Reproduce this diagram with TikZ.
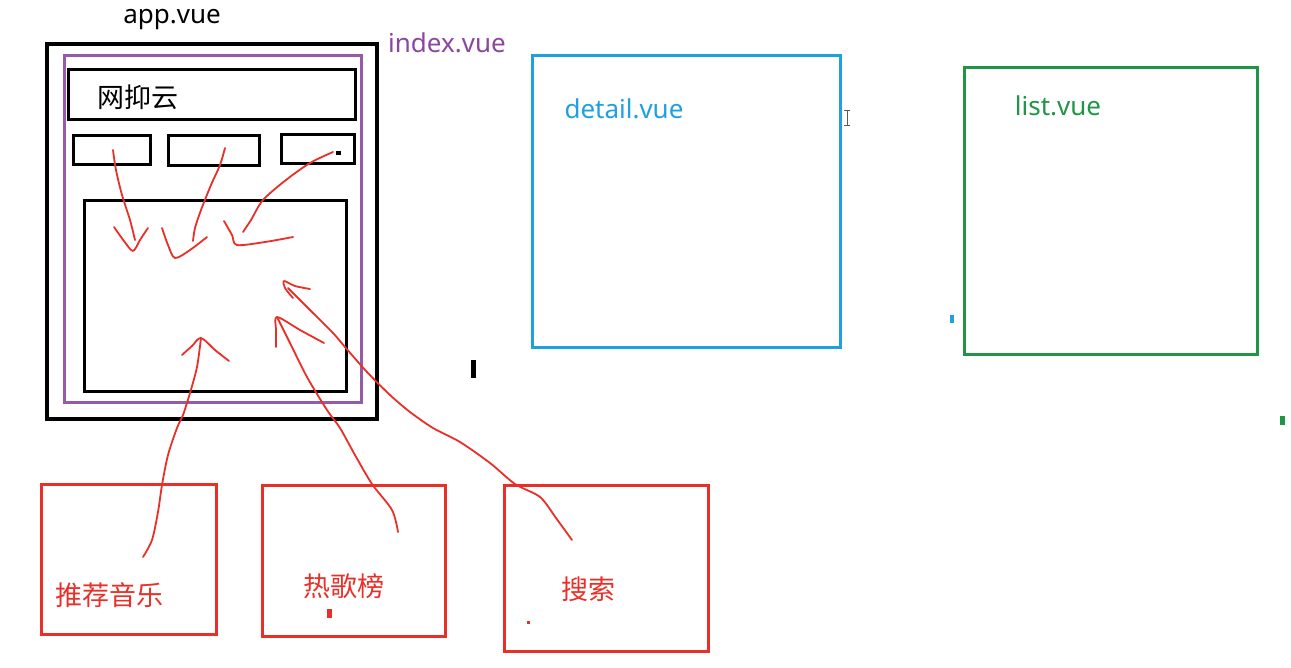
\documentclass[tikz,border=0pt]{standalone}
\usepackage{fontspec}
\setmainfont{Noto Sans}
\newfontfamily\cjk{Noto Sans CJK SC}
\definecolor{cred}{RGB}{232,48,40}
\definecolor{cblue}{RGB}{30,160,225}
\definecolor{cgreen}{RGB}{30,150,70}
\definecolor{cpurple}{RGB}{150,90,170}
\definecolor{cptext}{RGB}{140,70,160}
\begin{document}
\begin{tikzpicture}[x=1pt,y=-1pt,
  box/.style={draw,line width=#1,inner sep=0pt,anchor=north west},
  box/.default=3pt,
  lbl/.style={font=\fontsize{26}{30}\selectfont,inner sep=0pt},
  clbl/.style={font=\cjk\fontsize{27}{31}\selectfont,inner sep=0pt},
  stroke/.style={cred,line width=1.8pt,line cap=round,line join=round}]
\useasboundingbox[fill=white] (0,0) rectangle (1291,667);
% app.vue
\node[box=4pt,minimum width=330pt,minimum height=375pt] (app) at (45,42) {};
\node[lbl] (applbl) at (172,20) {app.vue};
\node[box,draw=cpurple,minimum width=297pt,minimum height=347pt] (index) at (63,54) {};
\node[lbl,text=cptext,anchor=west] (indexlbl) at (388,43) {index.vue};
\node[box,minimum width=287pt,minimum height=50pt] (header) at (67,68) {};
\node[clbl] (headerlbl) at (138,97) {网抑云};
\node[box,minimum width=77pt,minimum height=29pt] (tab1) at (72,134) {};
\node[box,minimum width=91pt,minimum height=30pt] (tab2) at (167,134) {};
\node[box,minimum width=73pt,minimum height=29pt] (tab3) at (280,133) {};
\node[box,minimum width=262pt,minimum height=191pt] (content) at (83,199) {};
% detail / list
\node[box,draw=cblue,minimum width=308pt,minimum height=292pt] (detail) at (531,54) {};
\node[lbl,text=cblue] (detaillbl) at (624,109) {detail.vue};
\node[box,draw=cgreen,minimum width=293pt,minimum height=287pt] (list) at (963,66) {};
\node[lbl,text=cgreen] (listlbl) at (1058,106) {list.vue};
% red boxes
\node[box,draw=cred,minimum width=175pt,minimum height=150pt] (rec) at (40,483) {};
\node[clbl,text=cred] (reclbl) at (109,595) {推荐音乐};
\node[box,draw=cred,minimum width=183pt,minimum height=151pt] (hot) at (261,484) {};
\node[clbl,text=cred] (hotlbl) at (344,586) {热歌榜};
\node[box,draw=cred,minimum width=204pt,minimum height=166pt] (search) at (503,484) {};
\node[clbl,text=cred] (searchlbl) at (588,589) {搜索};
% freehand arrows, top
\draw[stroke] plot[smooth] coordinates {(113,150) (116,170) (122,195) (130,220) (135,240)};
\draw[stroke] plot[smooth] coordinates {(114,227) (124,241) (133,251) (140,240) (148,228)};
\draw[stroke] plot[smooth] coordinates {(225,148) (220,165) (211,185) (201,210) (195,228) (193,241)};
\draw[stroke] plot[smooth] coordinates {(162,228) (168,245) (175,258) (190,250) (207,237)};
\draw[stroke] plot[smooth] coordinates {(333,152) (310,163) (286,180) (263,200) (251,220) (243,232)};
\draw[stroke] plot[smooth] coordinates {(224,221) (232,235) (237,245) (265,242) (293,237)};
% freehand arrows, bottom
\draw[stroke] plot[smooth] coordinates {(143,557) (152,540) (158,512) (162,485) (168,455) (177,428) (183,415) (190,393) (197,367) (201,338)};
\draw[stroke] plot[smooth] coordinates {(182,355) (192,346) (201,338) (215,350) (229,361)};
\draw[stroke] plot[smooth] coordinates {(398,532) (392,510) (372,484) (355,455) (340,428) (327,410) (307,377) (290,343) (277,317)};
\draw[stroke] plot[smooth] coordinates {(276,347) (276,330) (277,317) (300,330) (324,343)};
\draw[stroke] plot[smooth] coordinates {(572,540) (556,518) (540,497) (515,484) (490,463) (460,442) (433,428) (410,412) (390,395) (367,372) (345,347) (333,333) (310,310) (288,288)};
\draw[stroke] plot[smooth] coordinates {(293,298) (285,288) (284,281) (295,286) (310,289)};
% small stray marks
\fill (336,151) rectangle (341,155);
\fill (471,360) rectangle (476,378);
\fill[cblue] (950,315) rectangle (954,323);
\fill[cgreen] (1280,416) rectangle (1285,425);
\fill[cred] (327,609) rectangle (332,618);
\fill[cred] (527,621) rectangle (530,624);
\draw[gray!70!black,line width=1pt] (844,110) -- (850,110) (847,110) -- (847,125) (844,125) -- (850,125);
\end{tikzpicture}
\end{document}
